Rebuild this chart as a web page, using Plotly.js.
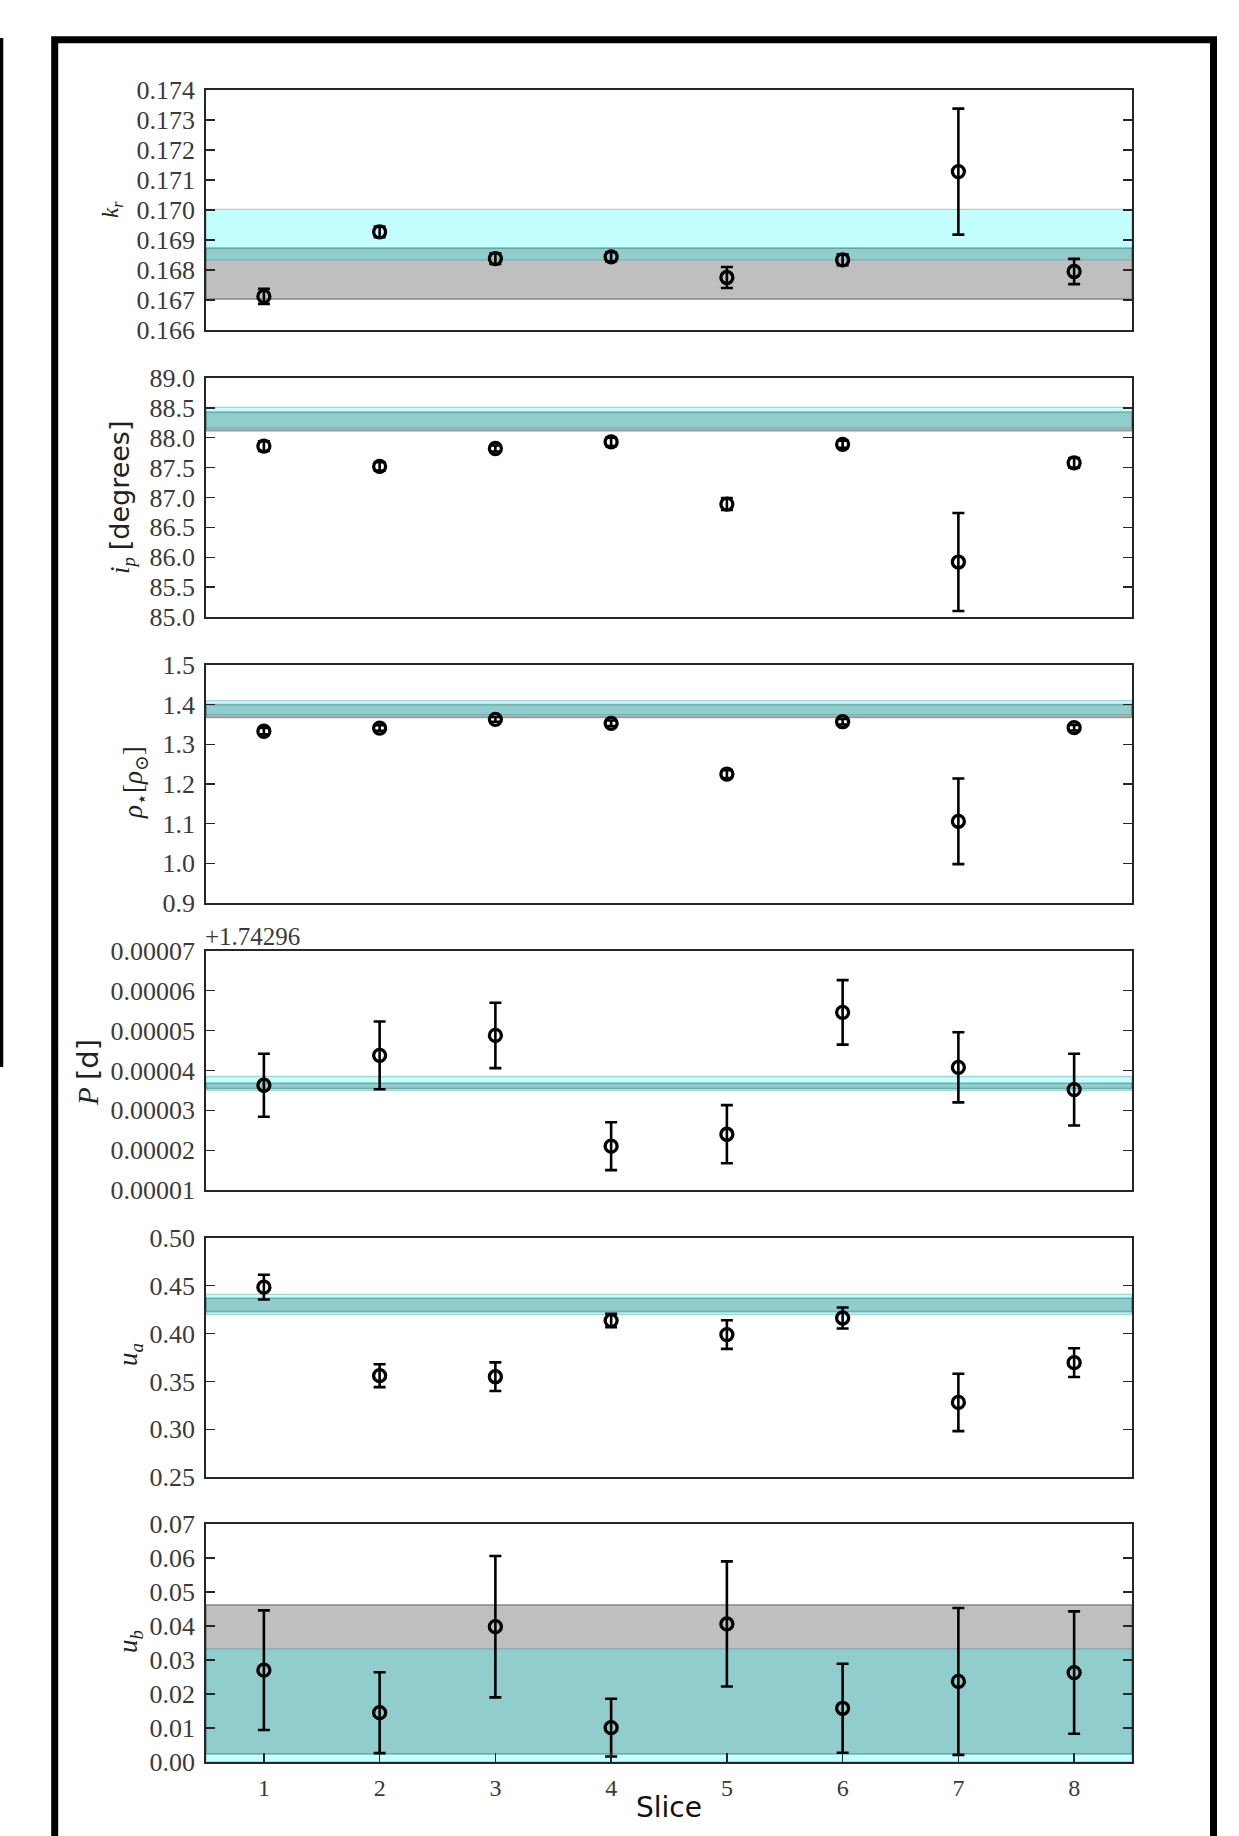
<!DOCTYPE html>
<html>
<head>
<meta charset="utf-8">
<script src="https://cdn.plot.ly/plotly-3.0.1.min.js"></script>
<style>html,body{margin:0;padding:0;background:#fff;}</style>
</head>
<body>
<div id="chart" style="width:1239px;height:1836px;"></div>
<script>
// ---------------- data ----------------
const slices = [1, 2, 3, 4, 5, 6, 7, 8];
const sliceTicks = ['1', '2', '3', '4', '5', '6', '7', '8'];

const krVal = [0.16712, 0.16927, 0.16838, 0.16844, 0.16775, 0.16834, 0.17128, 0.16795];
const krErr = [0.00025, 0.00018, 0.00018, 0.00015, 0.00035, 0.00018, 0.00210, 0.00042];
const krGray = [0.16703, 0.16873];
const krCyan = [0.16834, 0.17002];

const ipVal = [87.86, 87.52, 87.82, 87.93, 86.89, 87.89, 85.92, 87.58];
const ipErr = [0.08, 0.07, 0.05, 0.07, 0.10, 0.06, 0.82, 0.08];
const ipGray = [88.12, 88.43];
const ipCyan = [88.16, 88.51];

const rhoVal = [1.333, 1.341, 1.363, 1.353, 1.225, 1.357, 1.106, 1.342];
const rhoErr = [0.008, 0.007, 0.006, 0.007, 0.010, 0.007, 0.108, 0.007];
const rhoGray = [1.368, 1.400];
const rhoCyan = [1.375, 1.410];

const pOffset = '+1.74296';
const pVal = [3.63e-5, 4.38e-5, 4.88e-5, 2.10e-5, 2.40e-5, 5.46e-5, 4.08e-5, 3.52e-5];
const pErr = [0.79e-5, 0.85e-5, 0.82e-5, 0.60e-5, 0.73e-5, 0.81e-5, 0.88e-5, 0.90e-5];
const pGray = [3.55e-5, 3.68e-5];
const pCyan = [3.50e-5, 3.85e-5];

const uaVal = [0.4486, 0.3560, 0.3549, 0.4136, 0.3990, 0.4163, 0.3280, 0.3696];
const uaErr = [0.013, 0.012, 0.015, 0.007, 0.015, 0.011, 0.030, 0.015];
const uaGray = [0.423, 0.437];
const uaCyan = [0.420, 0.441];

const ubVal = [0.0270, 0.0145, 0.0398, 0.0101, 0.0406, 0.0158, 0.0237, 0.0263];
const ubErr = [0.0176, 0.0119, 0.0208, 0.0085, 0.0184, 0.0131, 0.0216, 0.0180];
const ubGray = [0.0024, 0.0462];
const ubCyan = [0.0, 0.0333];

// ---------------- layout geometry ----------------
const W = 1239, H = 1836;
const mL = 206, mR = 1239 - 1132, mT = 90, mB = 1836 - 1762;
const plotH = H - mT - mB, plotW = W - mL - mR;
const px2py = y => (H - mB - y) / plotH;
const px2px = x => (x - mL) / plotW;

const panelsPx = [[90, 330], [378, 617], [665, 903], [951, 1190], [1238, 1477], [1524, 1762]];

const panels = [
  {v: krVal, e: krErr, g: krGray, c: krCyan, range: [0.166, 0.174], dtick: 0.001, fmt: '.3f'},
  {v: ipVal, e: ipErr, g: ipGray, c: ipCyan, range: [85, 89], dtick: 0.5, fmt: '.1f'},
  {v: rhoVal, e: rhoErr, g: rhoGray, c: rhoCyan, range: [0.9, 1.5], dtick: 0.1, fmt: '.1f'},
  {v: pVal, e: pErr, g: pGray, c: pCyan, range: [0.00001, 0.00007], dtick: 0.00001, fmt: '.5f'},
  {v: uaVal, e: uaErr, g: uaGray, c: uaCyan, range: [0.25, 0.50], dtick: 0.05, fmt: '.2f'},
  {v: ubVal, e: ubErr, g: ubGray, c: ubCyan, range: [0.0, 0.07], dtick: 0.01, fmt: '.2f'}
];

const serif = 'Liberation Serif, DejaVu Serif, serif';
const sans = 'DejaVu Sans, Liberation Sans, sans-serif';
const axColor = '#262626';
const tickColor = '#3a3a3a';

const data = [];
const shapes = [];
const layout = {
  width: W, height: H,
  margin: {l: mL, r: mR, t: mT, b: mB, pad: 0},
  paper_bgcolor: '#ffffff',
  plot_bgcolor: 'rgba(0,0,0,0)',
  showlegend: false,
  font: {family: serif, size: 26, color: axColor},
  annotations: []
};

panels.forEach((p, i) => {
  const n = i + 1;
  const xa = n === 1 ? 'x' : 'x' + n;
  const ya = n === 1 ? 'y' : 'y' + n;
  const xKey = n === 1 ? 'xaxis' : 'xaxis' + n;
  const yKey = n === 1 ? 'yaxis' : 'yaxis' + n;
  const top = px2py(panelsPx[i][0]);
  const bot = px2py(panelsPx[i][1]);
  const isLast = n === panels.length;

  layout[xKey] = {
    domain: [0, 1], anchor: ya, range: [0.5, 8.5],
    showgrid: false, zeroline: false,
    showline: true, linecolor: axColor, linewidth: 1.8, mirror: true,
    ticks: isLast ? 'inside' : '', ticklen: 9, tickwidth: 1.3, tickcolor: axColor,
    tickvals: slices, ticktext: sliceTicks,
    showticklabels: isLast,
    tickfont: {family: serif, size: 24, color: tickColor},
    ticklabelstandoff: 3
  };
  if (n > 1) layout[xKey].matches = 'x';
  layout[yKey] = {
    domain: [bot, top], anchor: xa, range: p.range,
    showgrid: false, zeroline: false,
    showline: true, linecolor: axColor, linewidth: 1.8, mirror: 'ticks',
    ticks: 'inside', ticklen: 9, tickwidth: 1.3, tickcolor: axColor,
    dtick: p.dtick, tick0: p.range[0], tickformat: p.fmt,
    tickfont: {family: serif, size: 26, color: tickColor},
    ticklabelstandoff: 4
  };

  // gray band first, cyan on top
  shapes.push({type: 'rect', xref: xa + ' domain', yref: ya, x0: 0, x1: 1, y0: p.g[0], y1: p.g[1],
    fillcolor: 'rgba(128,128,128,0.5)', line: {color: 'rgba(100,100,100,0.6)', width: 1.6}, layer: 'below'});
  shapes.push({type: 'rect', xref: xa + ' domain', yref: ya, x0: 0, x1: 1, y0: p.c[0], y1: p.c[1],
    fillcolor: 'rgba(0,255,255,0.23)', line: {color: 'rgba(0,110,110,0.28)', width: 1.3}, layer: 'below'});

  data.push({
    type: 'scatter', mode: 'markers', x: slices, y: p.v, xaxis: xa, yaxis: ya,
    marker: {symbol: 'circle-open', size: 12, color: '#000', line: {width: 3.3, color: '#000'}},
    error_y: {type: 'data', array: p.e, visible: true, color: '#000', thickness: 2.6, width: 6},
    hoverinfo: 'skip'
  });
});

// outer black frame and partial left line
shapes.push({type: 'rect', xref: 'paper', yref: 'paper',
  x0: px2px(54.7), x1: px2px(1213.5), y0: px2py(1960), y1: px2py(39.7),
  line: {color: '#000', width: 7}, fillcolor: 'rgba(0,0,0,0)'});
shapes.push({type: 'line', xref: 'paper', yref: 'paper',
  x0: px2px(1.5), x1: px2px(1.5), y0: px2py(38), y1: px2py(1067),
  line: {color: '#000', width: 3.5}});
layout.shapes = shapes;

// y-axis titles
const ann = layout.annotations;
const ytitle = (txt, xpx, ypx, size) => ann.push({
  xref: 'paper', yref: 'paper', x: px2px(xpx), y: px2py(ypx), text: txt,
  textangle: -90, showarrow: false, xanchor: 'center', yanchor: 'middle',
  font: {family: serif, size: size, color: '#222'}
});
ytitle('<i>k<sub>r</sub></i>', 112, 210, 23);
ytitle('<i>i<sub>p</sub></i> <span style="font-family:DejaVu Sans, sans-serif">[degrees]</span>', 121, 498, 27);
ytitle('<i>ρ</i><sub>⋆</sub>[<i>ρ</i><sub>⊙</sub>]', 135, 783, 27);
ytitle('<i>P</i> <span style="font-family:DejaVu Sans, sans-serif">[d]</span>', 88, 1073, 29);
ytitle('<i>u<sub>a</sub></i>', 130, 1355, 27);
ytitle('<i>u<sub>b</sub></i>', 130, 1642, 27);

// x title
ann.push({xref: 'paper', yref: 'paper', x: 0.5, y: px2py(1808), text: 'Slice', showarrow: false,
  xanchor: 'center', yanchor: 'middle', font: {family: sans, size: 28, color: '#111'}});

// offset text for period panel
ann.push({xref: 'paper', yref: 'paper', x: 0, y: px2py(951), text: pOffset, showarrow: false,
  xanchor: 'left', yanchor: 'bottom', yshift: -1, xshift: -3,
  font: {family: serif, size: 25, color: tickColor}});

Plotly.newPlot('chart', data, layout, {staticPlot: true, displayModeBar: false});
</script>
</body>
</html>
